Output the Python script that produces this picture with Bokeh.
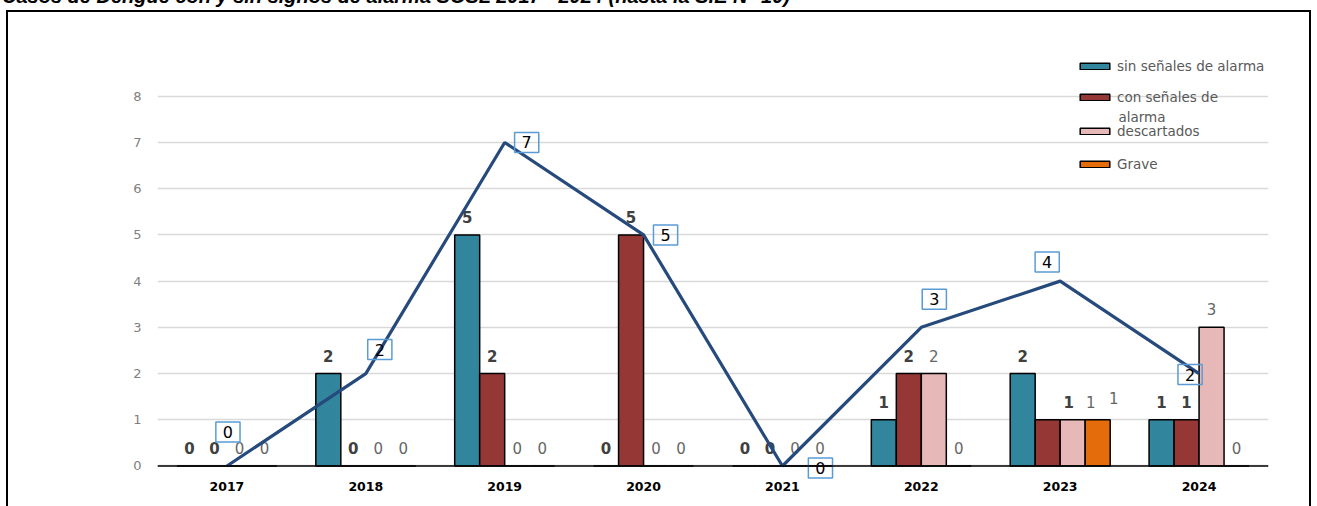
from bokeh.plotting import figure
from bokeh.layouts import column
from bokeh.models import (FactorRange, Range1d, FixedTicker, Label, Span, Div,
                          Legend, LegendItem, ColumnDataSource)
from bokeh.transform import dodge
from bokeh.core.properties import value
from bokeh.embed import file_html
from bokeh.resources import INLINE

# ---------------- data ----------------
years = ["2017", "2018", "2019", "2020", "2021", "2022", "2023", "2024"]
sin_senales = [0, 2, 5, 0, 0, 1, 2, 1]
con_senales = [0, 0, 2, 5, 0, 2, 1, 1]
descartados = [0, 0, 0, 0, 0, 2, 1, 3]
grave = [0, 0, 0, 0, 0, 0, 1, 0]
total = [0, 2, 7, 5, 0, 3, 4, 2]
series_names = ["sin señales de alarma", "con señales de", "descartados", "Grave"]
series_name_2nd_line = "alarma"
y_ticks = [0, 1, 2, 3, 4, 5, 6, 7, 8]
title_text = "Casos de Dengue con y sin signos de alarma SOSL 2017 - 2024 (hasta la S.E N° 10)"

# ---------------- styles ----------------
colors = ["#31859C", "#953735", "#E6B9B8", "#E46C0A"]
dodges = [-0.27, -0.09, 0.09, 0.27]
bold = [True, True, False, False]
label_colors = ["#404040", "#404040", "#666666", "#666666"]
# per-point label nudges (pixels) for the crowded 2023 group
label_dx = [[0] * 8,
            [0, 0, 0, 0, 0, 0, 21, 0],
            [0, 0, 0, 0, 0, 0, 18, 0],
            [0, 0, 0, 0, 0, 0, 16, 0]]
label_dy = [[-18] * 8,
            [-18] * 8,
            [-18] * 8,
            [-18, -18, -18, -18, -18, -18, -22, -18]]
box_dx = [1, 14, 22, 22, 38, 13, -13, -9]
box_dy = [34, 24, 0, 0, -2, 28, 19, -1]
frame_bottom = 485          # page px
legend_centers = [66, 97, 131, 163.5]
legend_vy = [frame_bottom - (c + 8.5) for c in legend_centers]
legend_vx = 919

series = [sin_senales, con_senales, descartados, grave]
data = dict(year=years, total=total)
for i, s in enumerate(series):
    data[f"s{i}"] = s
    data[f"t{i}"] = [str(v) for v in s]
    data[f"dx{i}"] = label_dx[i]
    data[f"dy{i}"] = label_dy[i]
src = ColumnDataSource(data)

box_css = {
    "background-image": "linear-gradient(#000,#000), linear-gradient(#000,#000), linear-gradient(#000,#000)",
    "background-size": "2px 100%, 1305px 2px, 2px 100%",
    "background-position": "6px 0px, 6px 0px, 1309px 0px",
    "background-repeat": "no-repeat",
}

p = figure(width=1317, height=496,
           x_range=FactorRange(factors=years, range_padding=0),
           y_range=Range1d(-0.422, 9.639),
           output_backend="svg", toolbar_location=None,
           min_border_left=157, min_border_right=49, min_border_top=10, min_border_bottom=21,
           outline_line_color=None, background_fill_color="white", border_fill_color=None,
           styles=box_css, margin=0)

renderers = []
for i in range(4):
    r = p.vbar(x=dodge("year", dodges[i], range=p.x_range), top=f"s{i}", width=0.18,
               source=src, fill_color=colors[i], line_color="black", line_width=1.5)
    renderers.append(r)

for i in range(4):
    p.text(x=dodge("year", dodges[i], range=p.x_range), y=f"s{i}", text=f"t{i}",
           x_offset=f"dx{i}", y_offset=f"dy{i}", source=src,
           text_align="center", text_baseline="middle",
           text_font=value("DejaVu Sans"), text_font_size="15px",
           text_font_style="bold" if bold[i] else "normal",
           text_color=label_colors[i])

p.line(x="year", y="total", source=src, line_color="#264A7C", line_width=3.2)

for i, t in enumerate(total):
    p.add_layout(Label(x=i + 0.5, y=t, text=str(t), x_offset=box_dx[i], y_offset=box_dy[i],
                       text_align="center", text_baseline="middle",
                       text_font="DejaVu Sans", text_font_size="16px", text_color="black",
                       border_line_color="#5B9BD5", border_line_width=1.5,
                       background_fill_alpha=0,
                       padding=dict(left=7, right=7, top=4, bottom=4)))

# axes
yt = FixedTicker(ticks=y_ticks)
p.yaxis.ticker = yt
p.ygrid.ticker = yt
p.yaxis.axis_line_color = None
p.yaxis.major_tick_line_color = None
p.yaxis.minor_tick_line_color = None
p.yaxis.major_tick_out = 0
p.yaxis.major_tick_in = 0
p.yaxis.major_label_standoff = 16
p.yaxis.major_label_text_font = "DejaVu Sans"
p.yaxis.major_label_text_font_size = "13px"
p.yaxis.major_label_text_color = "#7F7F7F"

p.xaxis.axis_line_color = None
p.xaxis.major_tick_line_color = None
p.xaxis.major_tick_out = 0
p.xaxis.major_tick_in = 0
p.xaxis.major_label_standoff = -4
p.xaxis.major_label_text_font = "DejaVu Sans"
p.xaxis.major_label_text_font_style = "bold"
p.xaxis.major_label_text_font_size = "12.5px"
p.xaxis.major_label_text_color = "black"

p.xgrid.visible = False
p.ygrid.grid_line_color = "#D9D9D9"
p.ygrid.grid_line_width = 1.5

# baseline (category axis line at y = 0)
p.add_layout(Span(location=0, dimension="width", line_color="black", line_width=1.5))

# legends (one per item for exact placement)
for i in range(4):
    leg = Legend(items=[LegendItem(label=series_names[i], renderers=[renderers[i]])],
                 location=(legend_vx, legend_vy[i]), glyph_width=37, glyph_height=8,
                 label_standoff=4, padding=0, margin=0, spacing=0, label_height=17,
                 border_line_color=None, background_fill_alpha=0,
                 label_text_font="DejaVu Sans", label_text_font_size="13.5px",
                 label_text_color="#595959")
    p.add_layout(leg)
p.add_layout(Label(x=legend_vx + 42, y=frame_bottom - 116, x_units="screen", y_units="screen",
                   text=series_name_2nd_line, text_align="left", text_baseline="middle",
                   text_font="DejaVu Sans", text_font_size="13.5px", text_color="#595959"))

# title (partly cut off at the top, as in the original)
title = Div(text=('<div style="font: italic bold 20px \'Liberation Sans\', Arial, sans-serif; '
                  'white-space: nowrap; position: relative; top: -8.6px; left: 2px; '
                  'line-height: 10px; height: 10px; color: #000;">'
                  + title_text + '</div>'),
            width=1317, height=10, margin=0)

layout = column(title, p, spacing=0)
open("out.html", "w").write(file_html(layout, INLINE))
